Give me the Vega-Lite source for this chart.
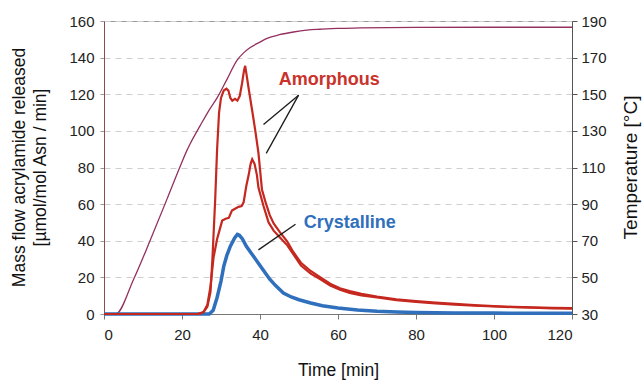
{
  "$schema": "https://vega.github.io/schema/vega-lite/v6.json",
  "width": 468,
  "height": 293,
  "autosize": {"type": "none"},
  "padding": {"left": 104, "top": 21, "right": 72, "bottom": 67},
  "background": "white",
  "config": {
    "view": {"stroke": "#9a9a9a", "strokeWidth": 1},
    "font": "Liberation Sans",
    "axis": {"labelFont": "Liberation Sans", "titleFont": "Liberation Sans", "labelColor": "#222", "titleColor": "#111", "titleFontWeight": "normal"}
  },
  "datasets": {
    "temp": [
      {"t": 0, "temp": 30}, {"t": 3, "temp": 30}, {"t": 7.6, "temp": 49}, {"t": 11.9, "temp": 70.5},
      {"t": 16.2, "temp": 93}, {"t": 19.6, "temp": 111}, {"t": 21.3, "temp": 119.5}, {"t": 22.1, "temp": 123},
      {"t": 24.7, "temp": 133}, {"t": 27, "temp": 141.5}, {"t": 29, "temp": 148}, {"t": 31.5, "temp": 158},
      {"t": 34.1, "temp": 168.5}, {"t": 36, "temp": 173}, {"t": 37.5, "temp": 175.5}, {"t": 40, "temp": 178.5},
      {"t": 41.8, "temp": 180.5}, {"t": 45, "temp": 182.5}, {"t": 48.6, "temp": 184}, {"t": 52, "temp": 185},
      {"t": 55.5, "temp": 185.5}, {"t": 60, "temp": 186}, {"t": 65.7, "temp": 186.2}, {"t": 80, "temp": 186.5},
      {"t": 100, "temp": 186.6}, {"t": 120, "temp": 186.6}
    ],
    "curves": [
      {"series": "Amorphous A", "t": 0, "v": 0}, {"series": "Amorphous A", "t": 24, "v": 0},
      {"series": "Amorphous A", "t": 25.5, "v": 1}, {"series": "Amorphous A", "t": 26.5, "v": 4},
      {"series": "Amorphous A", "t": 27.3, "v": 12}, {"series": "Amorphous A", "t": 27.8, "v": 30},
      {"series": "Amorphous A", "t": 28.5, "v": 62}, {"series": "Amorphous A", "t": 29, "v": 90},
      {"series": "Amorphous A", "t": 29.5, "v": 110}, {"series": "Amorphous A", "t": 30, "v": 118},
      {"series": "Amorphous A", "t": 30.7, "v": 122}, {"series": "Amorphous A", "t": 31.4, "v": 123},
      {"series": "Amorphous A", "t": 31.9, "v": 122}, {"series": "Amorphous A", "t": 32.4, "v": 118},
      {"series": "Amorphous A", "t": 32.9, "v": 116.5}, {"series": "Amorphous A", "t": 33.6, "v": 117.5},
      {"series": "Amorphous A", "t": 34.2, "v": 116.5}, {"series": "Amorphous A", "t": 34.8, "v": 119},
      {"series": "Amorphous A", "t": 35.4, "v": 126}, {"series": "Amorphous A", "t": 35.9, "v": 133},
      {"series": "Amorphous A", "t": 36.2, "v": 135.5}, {"series": "Amorphous A", "t": 36.6, "v": 130},
      {"series": "Amorphous A", "t": 37.1, "v": 123}, {"series": "Amorphous A", "t": 38, "v": 111},
      {"series": "Amorphous A", "t": 38.8, "v": 100}, {"series": "Amorphous A", "t": 39.6, "v": 88},
      {"series": "Amorphous A", "t": 40.5, "v": 68}, {"series": "Amorphous A", "t": 41.5, "v": 60.5},
      {"series": "Amorphous A", "t": 42.5, "v": 54}, {"series": "Amorphous A", "t": 43.5, "v": 49.5},
      {"series": "Amorphous A", "t": 45, "v": 45}, {"series": "Amorphous A", "t": 47, "v": 39.5},
      {"series": "Amorphous A", "t": 48.5, "v": 34}, {"series": "Amorphous A", "t": 50.5, "v": 28},
      {"series": "Amorphous A", "t": 53, "v": 23.5}, {"series": "Amorphous A", "t": 55.5, "v": 20},
      {"series": "Amorphous A", "t": 58, "v": 16.5}, {"series": "Amorphous A", "t": 60.5, "v": 14},
      {"series": "Amorphous A", "t": 63, "v": 12.5}, {"series": "Amorphous A", "t": 66, "v": 11},
      {"series": "Amorphous A", "t": 70, "v": 9.5}, {"series": "Amorphous A", "t": 75, "v": 8},
      {"series": "Amorphous A", "t": 80, "v": 7}, {"series": "Amorphous A", "t": 85, "v": 6.2},
      {"series": "Amorphous A", "t": 90, "v": 5.5}, {"series": "Amorphous A", "t": 95, "v": 4.8},
      {"series": "Amorphous A", "t": 100, "v": 4.3}, {"series": "Amorphous A", "t": 105, "v": 3.9},
      {"series": "Amorphous A", "t": 110, "v": 3.6}, {"series": "Amorphous A", "t": 115, "v": 3.4},
      {"series": "Amorphous A", "t": 120, "v": 3.2},
      {"series": "Amorphous B", "t": 0, "v": 0}, {"series": "Amorphous B", "t": 24.5, "v": 0},
      {"series": "Amorphous B", "t": 25.5, "v": 1}, {"series": "Amorphous B", "t": 26.5, "v": 5},
      {"series": "Amorphous B", "t": 27.3, "v": 15}, {"series": "Amorphous B", "t": 28.1, "v": 31},
      {"series": "Amorphous B", "t": 29, "v": 41}, {"series": "Amorphous B", "t": 29.4, "v": 44},
      {"series": "Amorphous B", "t": 30.3, "v": 51}, {"series": "Amorphous B", "t": 31.2, "v": 52},
      {"series": "Amorphous B", "t": 32, "v": 52.5}, {"series": "Amorphous B", "t": 32.8, "v": 56.5},
      {"series": "Amorphous B", "t": 33.6, "v": 57.5}, {"series": "Amorphous B", "t": 34.5, "v": 58.5},
      {"series": "Amorphous B", "t": 35.3, "v": 59}, {"series": "Amorphous B", "t": 35.8, "v": 61},
      {"series": "Amorphous B", "t": 36.5, "v": 70}, {"series": "Amorphous B", "t": 37.1, "v": 76},
      {"series": "Amorphous B", "t": 37.6, "v": 82}, {"series": "Amorphous B", "t": 38, "v": 84.5},
      {"series": "Amorphous B", "t": 38.6, "v": 82}, {"series": "Amorphous B", "t": 39.2, "v": 76},
      {"series": "Amorphous B", "t": 39.6, "v": 69}, {"series": "Amorphous B", "t": 40.9, "v": 59},
      {"series": "Amorphous B", "t": 42.2, "v": 50}, {"series": "Amorphous B", "t": 43.5, "v": 45.5},
      {"series": "Amorphous B", "t": 45, "v": 42}, {"series": "Amorphous B", "t": 47, "v": 37.5},
      {"series": "Amorphous B", "t": 50.5, "v": 26.5}, {"series": "Amorphous B", "t": 53, "v": 22},
      {"series": "Amorphous B", "t": 55.5, "v": 19}, {"series": "Amorphous B", "t": 58, "v": 15.5},
      {"series": "Amorphous B", "t": 60.5, "v": 13.2}, {"series": "Amorphous B", "t": 63, "v": 11.5},
      {"series": "Amorphous B", "t": 66, "v": 10.2}, {"series": "Amorphous B", "t": 70, "v": 9},
      {"series": "Amorphous B", "t": 75, "v": 7.5}, {"series": "Amorphous B", "t": 80, "v": 6.6},
      {"series": "Amorphous B", "t": 85, "v": 5.8}, {"series": "Amorphous B", "t": 90, "v": 5.1},
      {"series": "Amorphous B", "t": 95, "v": 4.5}, {"series": "Amorphous B", "t": 100, "v": 4.1},
      {"series": "Amorphous B", "t": 105, "v": 3.7}, {"series": "Amorphous B", "t": 110, "v": 3.4},
      {"series": "Amorphous B", "t": 115, "v": 3.1}, {"series": "Amorphous B", "t": 120, "v": 2.9},
      {"series": "Crystalline", "t": 0, "v": 0}, {"series": "Crystalline", "t": 27, "v": 0},
      {"series": "Crystalline", "t": 28, "v": 2}, {"series": "Crystalline", "t": 29, "v": 9},
      {"series": "Crystalline", "t": 30, "v": 18}, {"series": "Crystalline", "t": 30.7, "v": 26},
      {"series": "Crystalline", "t": 31.5, "v": 32}, {"series": "Crystalline", "t": 32.4, "v": 37},
      {"series": "Crystalline", "t": 33.5, "v": 41.5}, {"series": "Crystalline", "t": 34.2, "v": 43.5},
      {"series": "Crystalline", "t": 34.7, "v": 43}, {"series": "Crystalline", "t": 35.5, "v": 41},
      {"series": "Crystalline", "t": 36.5, "v": 37}, {"series": "Crystalline", "t": 38, "v": 32.5},
      {"series": "Crystalline", "t": 39.5, "v": 28}, {"series": "Crystalline", "t": 41, "v": 23.5},
      {"series": "Crystalline", "t": 42.5, "v": 19}, {"series": "Crystalline", "t": 44, "v": 15.5},
      {"series": "Crystalline", "t": 46, "v": 11.5}, {"series": "Crystalline", "t": 48, "v": 9.3},
      {"series": "Crystalline", "t": 50, "v": 7.8}, {"series": "Crystalline", "t": 53, "v": 6},
      {"series": "Crystalline", "t": 56, "v": 4.5}, {"series": "Crystalline", "t": 60, "v": 3.3},
      {"series": "Crystalline", "t": 65, "v": 2.2}, {"series": "Crystalline", "t": 70, "v": 1.5},
      {"series": "Crystalline", "t": 75, "v": 1.1}, {"series": "Crystalline", "t": 80, "v": 0.8},
      {"series": "Crystalline", "t": 90, "v": 0.6}, {"series": "Crystalline", "t": 100, "v": 0.5},
      {"series": "Crystalline", "t": 110, "v": 0.4}, {"series": "Crystalline", "t": 120, "v": 0.4}
    ],
    "ann": [
      {"t": 40.9, "v": 103.5, "t2": 49.9, "v2": 119.5},
      {"t": 41.6, "v": 87.7, "t2": 49.9, "v2": 119.5},
      {"t": 39.6, "v": 35.0, "t2": 49.1, "v2": 49.0}
    ],
    "lab": [
      {"t": 44.8, "v": 125, "label": "Amorphous", "series": "Amorphous"},
      {"t": 51.2, "v": 47, "label": "Crystalline", "series": "Crystalline"}
    ]
  },
  "layer": [
    {
      "data": {"name": "temp"},
      "mark": {"type": "line", "color": "#93305e", "strokeWidth": 1.3, "interpolate": "monotone"},
      "encoding": {
        "x": {"field": "t", "type": "quantitative", "scale": {"domain": [0, 120], "nice": false},
          "axis": {"values": [0, 20, 40, 60, 80, 100, 120], "grid": false, "title": "Time [min]", "domainColor": "#777", "tickColor": "#777", "tickSize": 5, "labelPadding": 8, "labelFontSize": 15, "titleFontSize": 17.5, "titleY": 56, "titleBaseline": "middle"}},
        "y": {"field": "temp", "type": "quantitative", "scale": {"domain": [30, 190], "nice": false},
          "axis": {"orient": "right", "values": [30, 50, 70, 90, 110, 130, 150, 170, 190], "grid": false, "title": "Temperature [°C]", "domainColor": "#555", "tickColor": "#555", "tickSize": 5, "labelPadding": 4, "labelFontSize": 15, "titleFontSize": 19, "titleAngle": -90, "titleX": 58, "titleY": 146, "titleBaseline": "middle"}}
      }
    },
    {
      "encoding": {
        "x": {"field": "t", "type": "quantitative", "scale": {"domain": [0, 120], "nice": false},
          "axis": {"values": [0, 20, 40, 60, 80, 100, 120], "grid": false, "title": "Time [min]", "domainColor": "#777", "tickColor": "#777", "tickSize": 5, "labelPadding": 8, "labelFontSize": 15, "titleFontSize": 17.5, "titleY": 56, "titleBaseline": "middle"}},
        "y": {"field": "v", "type": "quantitative", "scale": {"domain": [0, 160], "nice": false},
          "axis": {"orient": "left", "values": [0, 20, 40, 60, 80, 100, 120, 140, 160], "grid": true, "gridDash": [6, 5], "gridColor": "#cfcfcf", "domainColor": "#8c4a4a", "tickColor": "#999", "tickSize": 4, "labelPadding": 6, "labelFontSize": 15, "title": ["Mass flow acrylamide released", "[µmol/mol Asn / min]"], "titleFontSize": 17.5, "titleAngle": -90, "titleX": -85, "titleY": 146, "titleBaseline": "middle", "titleLineHeight": 21.5}}
      },
      "layer": [
        {
          "data": {"name": "curves"},
          "transform": [{"filter": "datum.series === 'Crystalline'"}],
          "mark": {"type": "line", "color": "#2f6fbc", "strokeWidth": 3.5},
          "encoding": {}
        },
        {
          "data": {"name": "curves"},
          "transform": [{"filter": "datum.series !== 'Crystalline'"}],
          "mark": {"type": "line", "color": "#c4281f", "strokeWidth": 2.2},
          "encoding": {"detail": {"field": "series", "type": "nominal"}}
        },
        {
          "data": {"name": "ann"},
          "mark": {"type": "rule", "color": "#1a1a1a", "strokeWidth": 1.3},
          "encoding": {
            "x2": {"field": "t2"},
            "y2": {"field": "v2"}
          }
        },
        {
          "data": {"name": "lab"},
          "mark": {"type": "text", "align": "left", "baseline": "alphabetic", "fontSize": 18, "fontWeight": "bold", "font": "Liberation Sans"},
          "encoding": {
            "text": {"field": "label"},
            "color": {"field": "series", "type": "nominal", "scale": {"domain": ["Amorphous", "Crystalline"], "range": ["#c9332b", "#2f6fbc"]}, "legend": null}
          }
        }
      ]
    }
  ],
  "resolve": {"scale": {"y": "independent"}, "axis": {"y": "independent"}}
}
